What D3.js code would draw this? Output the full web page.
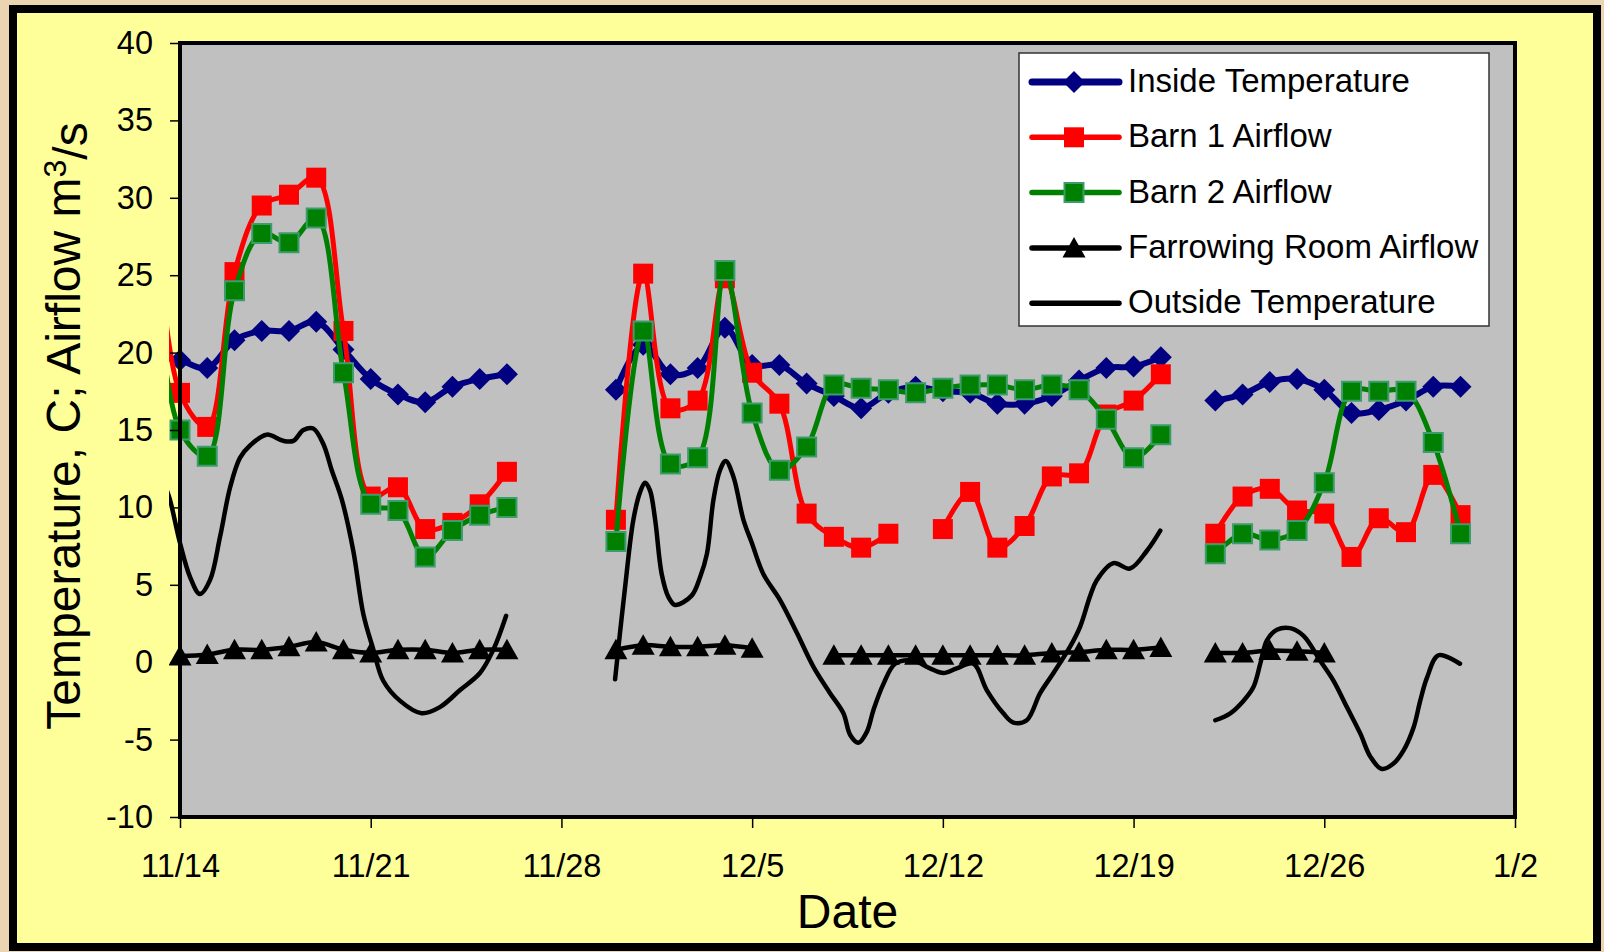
<!DOCTYPE html>
<html>
<head>
<meta charset="utf-8">
<script src="https://cdn.jsdelivr.net/npm/d3@7"></script>
<style>
  html, body { margin: 0; padding: 0; background: #EBD4B2; }
  svg { display: block; font-family: Arial, "Liberation Sans", sans-serif; }
</style>
</head>
<body>
<div id="chart"></div>
<script>
// daily readings, 11/13 .. 12/31 (null = no reading)
const dayLabels = [
  "11/13", "11/14", "11/15", "11/16", "11/17", "11/18", "11/19", "11/20", "11/21", "11/22",
  "11/23", "11/24", "11/25", "11/26", "11/27", "11/28", "11/29", "11/30",
  "12/1", "12/2", "12/3", "12/4", "12/5", "12/6", "12/7", "12/8", "12/9", "12/10",
  "12/11", "12/12", "12/13", "12/14", "12/15", "12/16", "12/17", "12/18", "12/19", "12/20",
  "12/21", "12/22", "12/23", "12/24", "12/25", "12/26", "12/27", "12/28", "12/29", "12/30", "12/31"
];

const insideTemp = [
  19.8, 19.5, 19.0, 20.8, 21.4, 21.4, 22.0, 20.2, 18.3, 17.3, 16.8, 17.8, 18.3, 18.6,
  null, null, null,
  17.6, 20.5, 18.6, 19.0, 21.6, 19.2, 19.2, 18.0, 17.2, 16.4, 17.4, 17.8, 17.5, 17.4,
  16.7, 16.7, 17.2, 18.2, 19.0, 19.1, 19.7,
  null,
  16.9, 17.3, 18.1, 18.3, 17.6, 16.1, 16.3, 16.9, 17.8, 17.8
];

const barn1Airflow = [
  32.0, 17.4, 15.2, 25.2, 29.5, 30.2, 31.3, 21.4, 10.7, 11.3, 8.6, 9.0, 10.2, 12.3,
  null, null, null,
  9.2, 25.1, 16.4, 16.9, 24.8, 18.7, 16.7, 9.6, 8.1, 7.4, 8.3, null, 8.6, 11.0,
  7.4, 8.8, 12.0, 12.2, 16.0, 16.9, 18.6,
  null,
  8.3, 10.7, 11.2, 9.8, 9.6, 6.8, 9.3, 8.4, 12.1, 9.5
];

const barn2Airflow = [
  27.0, 15.0, 13.3, 24.0, 27.7, 27.1, 28.7, 18.7, 10.2, 9.8, 6.8, 8.5, 9.5, 10.0,
  null, null, null,
  7.8, 21.4, 12.8, 13.2, 25.3, 16.1, 12.4, 13.9, 17.9, 17.7, 17.6, 17.4, 17.7, 17.9,
  17.9, 17.6, 17.9, 17.6, 15.7, 13.2, 14.7,
  null,
  7.0, 8.3, 7.9, 8.5, 11.6, 17.5, 17.5, 17.5, 14.2, 8.3
];

const farrowingAirflow = [
  null, 0.4, 0.5, 0.8, 0.8, 1.0, 1.3, 0.8, 0.6, 0.8, 0.8, 0.6, 0.8, 0.8,
  null, null, null,
  0.8, 1.1, 1.0, 1.0, 1.1, 0.9, null, null, 0.45, 0.45, 0.45, 0.45, 0.45, 0.45,
  0.45, 0.45, 0.6, 0.65, 0.8, 0.8, 0.95,
  null,
  0.6, 0.6, 0.75, 0.7, 0.6, null, null, null, null, null
];

// outside temperature, days after 11/14 00:00
const outsideDay = [
  -0.55, -0.37, 0, 0.37, 0.73, 1.10, 1.47, 1.84, 2.20, 2.57, 3.18, 3.79, 4.16, 4.53, 4.89,
  5.26, 5.57, 5.94, 6.36, 6.73, 7.10, 7.46, 8.08, 8.87, 9.54, 10.28, 11.01, 11.50, 11.97,
  14.0,
  15.97, 16.15, 16.34, 16.64, 16.89, 17.07, 17.25, 17.44, 17.68, 17.93, 18.17, 18.78, 19.09,
  19.34, 19.58, 19.82, 20.03, 20.31, 20.68, 20.99, 21.41, 22.03, 22.64, 23.25, 23.86, 24.35,
  24.60, 24.90, 25.21, 25.45, 25.82, 26.25, 26.92, 27.53, 28.02, 28.51, 29.12, 29.61, 30.22,
  30.59, 31.08, 31.57, 32.06, 32.67, 33.04, 33.41, 33.65, 34.26, 34.87, 35.49, 35.98,
  37.0,
  38.0, 38.55, 39.03, 39.40, 39.65, 39.89, 40.26, 40.75, 41.24, 41.85, 42.34, 42.83, 43.32,
  43.69, 44.11, 44.54, 44.91, 45.28, 45.52, 45.77, 46.19, 46.98
];
const outsideTemp = [
  11.4, 10.5, 7.7, 5.5, 4.4, 5.3, 8.1, 11.3, 13.2, 14.0, 14.7, 14.3, 14.3, 15.0, 15.1,
  14.1, 12.4, 10.5, 7.2, 3.1, 0.8, -1.2, -2.5, -3.3, -2.9, -1.8, -0.7, 0.8, 3.0,
  null,
  -1.1, 1.9, 4.9, 9.2, 11.0, 11.6, 11.1, 9.2, 5.7, 4.2, 3.7, 4.3, 5.5,
  7.0, 10.5, 12.4, 13.0, 12.0, 9.2, 7.7, 5.7, 4.0, 1.9, -0.3, -2.0, -3.3,
  -4.7, -5.2, -4.5, -3.1, -1.4, -0.1, 0.1, -0.4, -0.7, -0.4, -0.1, -1.8, -3.3,
  -3.9, -3.75, -2.0, -0.7, 1.0, 2.3, 4.3, 5.3, 6.4, 6.05, 7.2, 8.5,
  null,
  -3.75, -3.3, -2.5, -1.6, -0.1, 1.4, 2.1, 2.2, 1.7, 0.1, -1.2, -2.9, -4.6,
  -6.1, -6.9, -6.55, -5.7, -4.2, -2.5, -1.0, 0.45, -0.1
];

const yTicks = [-10, -5, 0, 5, 10, 15, 20, 25, 30, 35, 40];
const xTickLabels = ["11/14", "11/21", "11/28", "12/5", "12/12", "12/19", "12/26", "1/2"];

const width = 1604, height = 952;
const plot = {left: 180, top: 43, right: 1515, bottom: 817};

function parseDay(s) {
  const [m, d] = s.split("/").map(Number);
  return new Date(m >= 11 ? 2004 : 2005, m - 1, d);
}
const start = parseDay("11/14");

const x = d3.scaleTime()
  .domain([start, parseDay("1/2")])
  .range([plot.left, plot.right]);
const y = d3.scaleLinear()
  .domain([-10, 40])
  .range([plot.bottom, plot.top]);

const dayDates = dayLabels.map(parseDay);
const outsideDates = outsideDay.map(d => new Date(start.getTime() + d * 864e5));

const markers = {
  diamond: "M0,-11L11,0L0,11L-11,0Z",
  square: "M-10,-10h20v20h-20Z",
  squareSmall: "M-9.5,-9.5h19v19h-19Z",
  triangle: "M0,-11L11.5,9.5L-11.5,9.5Z"
};

const series = [
  {name: "Inside Temperature", dates: dayDates, values: insideTemp, color: "#000080", width: 6, marker: "diamond", fill: "#000080"},
  {name: "Barn 1 Airflow", dates: dayDates, values: barn1Airflow, color: "#FF0000", width: 5, marker: "square", fill: "#FF0000"},
  {name: "Barn 2 Airflow", dates: dayDates, values: barn2Airflow, color: "#008000", width: 5, marker: "squareSmall", fill: "#008000", outline: "#3C9C6C"},
  {name: "Farrowing Room Airflow", dates: dayDates, values: farrowingAirflow, color: "#000000", width: 4.5, marker: "triangle", fill: "#000000"},
  {name: "Outside Temperature", dates: outsideDates, values: outsideTemp, color: "#000000", width: 4.5, marker: null}
];

const svg = d3.select("#chart").append("svg")
  .attr("width", width)
  .attr("height", height);

// outer frame
svg.append("rect")
  .attr("x", 13).attr("y", 9)
  .attr("width", 1584).attr("height", 938)
  .attr("fill", "#FFFF99")
  .attr("stroke", "#000")
  .attr("stroke-width", 8);

// plot area background
svg.append("rect")
  .attr("x", plot.left).attr("y", plot.top)
  .attr("width", plot.right - plot.left)
  .attr("height", plot.bottom - plot.top)
  .attr("fill", "#C0C0C0");

svg.append("clipPath").attr("id", "clip")
  .append("rect")
  .attr("x", plot.left - 11).attr("y", plot.top)
  .attr("width", plot.right - plot.left + 11)
  .attr("height", plot.bottom - plot.top);

const lineGen = d3.line()
  .defined(d => d.v != null)
  .x(d => x(d.t))
  .y(d => y(d.v))
  .curve(d3.curveCatmullRom.alpha(0.5));

const plotG = svg.append("g").attr("clip-path", "url(#clip)");

series.forEach(s => {
  const pts = s.values.map((v, i) => ({t: s.dates[i], v: v}));
  const g = plotG.append("g");
  g.append("path")
    .attr("d", lineGen(pts))
    .attr("fill", "none")
    .attr("stroke", s.color)
    .attr("stroke-width", s.width)
    .attr("stroke-linejoin", "round")
    .attr("stroke-linecap", "round");
  if (s.marker) {
    g.selectAll("path.mk")
      .data(pts.filter(d => d.v != null))
      .join("path")
      .attr("class", "mk")
      .attr("transform", d => `translate(${x(d.t)},${y(d.v)})`)
      .attr("d", markers[s.marker])
      .attr("fill", s.fill)
      .attr("stroke", s.outline || "none")
      .attr("stroke-width", s.outline ? 2 : 0);
  }
});

// plot border
svg.append("rect")
  .attr("x", plot.left).attr("y", plot.top)
  .attr("width", plot.right - plot.left)
  .attr("height", plot.bottom - plot.top)
  .attr("fill", "none")
  .attr("stroke", "#000")
  .attr("stroke-width", 4);

// axes
const yAxis = svg.append("g")
  .attr("transform", `translate(${plot.left},0)`)
  .call(d3.axisLeft(y).tickValues(yTicks).tickFormat(d => String(d))
    .tickSize(10).tickPadding(17));
const xAxis = svg.append("g")
  .attr("transform", `translate(0,${plot.bottom})`)
  .call(d3.axisBottom(x).tickValues(xTickLabels.map(parseDay))
    .tickFormat(d3.timeFormat("%-m/%-d")).tickSize(11).tickPadding(26));

[yAxis, xAxis].forEach(g => {
  g.select(".domain").remove();
  g.selectAll(".tick line").attr("stroke", "#000").attr("stroke-width", 1.5);
  g.selectAll(".tick text")
    .attr("fill", "#000")
    .style("font-size", "32.5px")
    .style("font-family", "Arial, 'Liberation Sans', sans-serif");
});

// axis titles
svg.append("text")
  .attr("x", (plot.left + plot.right) / 2)
  .attr("y", 928)
  .attr("text-anchor", "middle")
  .style("font-size", "48px")
  .text("Date");

const yTitle = svg.append("text")
  .attr("transform", "translate(80,426) rotate(-90)")
  .attr("text-anchor", "middle")
  .style("font-size", "48px");
yTitle.append("tspan").text("Temperature, C; Airflow m");
yTitle.append("tspan").attr("dy", "-0.45em").style("font-size", "32px").text("3");
yTitle.append("tspan").attr("dy", "0.45em").text("/s");

// legend
const legend = svg.append("g");
legend.append("rect")
  .attr("x", 1019).attr("y", 53)
  .attr("width", 470).attr("height", 273)
  .attr("fill", "#fff")
  .attr("stroke", "#333")
  .attr("stroke-width", 1.5);

const rows = legend.selectAll("g.row")
  .data(series)
  .join("g")
  .attr("class", "row")
  .attr("transform", (d, i) => `translate(0,${82 + i * 55.3})`);
rows.append("line")
  .attr("x1", 1032).attr("x2", 1119)
  .attr("stroke", d => d.color)
  .attr("stroke-width", d => d.name === "Inside Temperature" ? 7 : 5.5)
  .attr("stroke-linecap", "round");
rows.filter(d => d.marker)
  .append("path")
  .attr("transform", "translate(1074,0)")
  .attr("d", d => markers[d.marker])
  .attr("fill", d => d.fill)
  .attr("stroke", d => d.outline || "none")
  .attr("stroke-width", d => d.outline ? 2 : 0);
rows.append("text")
  .attr("x", 1128)
  .attr("y", 10)
  .style("font-size", "33px")
  .text(d => d.name);
</script>
</body>
</html>
